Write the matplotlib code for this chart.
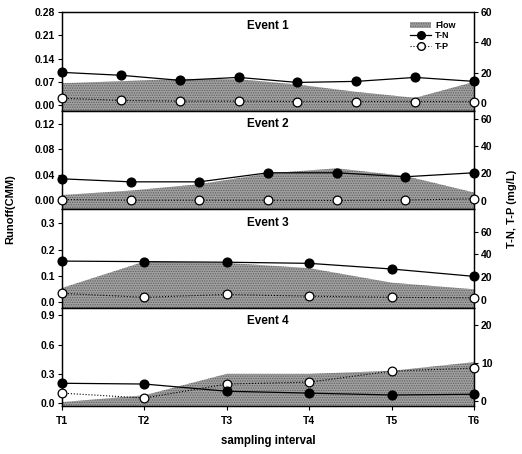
import numpy as np
import matplotlib.pyplot as plt
from matplotlib.patches import Patch
from matplotlib.lines import Line2D

plt.rcParams['font.family'] = ['Liberation Sans', 'DejaVu Sans']
plt.rcParams['font.weight'] = 'bold'
plt.rcParams['hatch.linewidth'] = 0.6

# sampling labels
periods = ["T1", "T2", "T3", "T4", "T5", "T6"]

# Event 1 (8 samples)
flow1 = [0.066, 0.072, 0.079, 0.078, 0.062, 0.040, 0.022, 0.070]
tn1 = [20.4, 18.5, 15.2, 17.1, 13.8, 14.5, 17.1, 14.5]
tp1 = [3.5, 2.0, 1.5, 1.5, 1.3, 1.3, 1.3, 1.2]

# Event 2 (7 samples)
flow2 = [0.008, 0.015, 0.025, 0.042, 0.050, 0.038, 0.012]
tn2 = [16.1, 13.9, 13.9, 20.5, 20.5, 17.6, 20.5]
tp2 = [1.0, 0.5, 0.5, 0.5, 0.3, 0.6, 1.5]

# Event 3 (6 samples)
flow3 = [0.055, 0.155, 0.150, 0.130, 0.075, 0.050]
tn3 = [34.0, 33.5, 33.0, 32.0, 27.0, 20.5]
tp3 = [5.5, 2.0, 4.5, 3.0, 2.0, 1.5]

# Event 4 (6 samples)
flow4 = [0.010, 0.080, 0.300, 0.300, 0.330, 0.420]
tn4 = [4.7, 4.5, 2.6, 2.1, 1.6, 1.8]
tp4 = [2.1, 0.8, 4.5, 5.0, 7.9, 8.7]

events = ["Event 1", "Event 2", "Event 3", "Event 4"]
flows = [flow1, flow2, flow3, flow4]
tns = [tn1, tn2, tn3, tn4]
tps = [tp1, tp2, tp3, tp4]

# axis settings per panel
left_lims = [(-0.016, 0.28), (-0.014, 0.141), (-0.019, 0.354), (-0.03, 0.98)]
right_lims = [(-4.6, 60), (-5.9, 65.9), (-7, 80), (-1.3, 24.7)]
left_ticks = [[0, 0.07, 0.14, 0.21, 0.28], [0, 0.04, 0.08, 0.12],
              [0, 0.1, 0.2, 0.3], [0, 0.3, 0.6, 0.9]]
right_ticks = [[0, 20, 40, 60], [0, 20, 40, 60], [0, 20, 40, 60], [0, 10, 20]]
left_fmt = ["%.2f", "%.2f", "%.1f", "%.1f"]

fig = plt.figure(figsize=(5.22, 4.54), dpi=100)
left, right, top, bottom = 62 / 522, 474 / 522, 1 - 12 / 454, 1 - 406 / 454
h = (top - bottom) / 4

fill_kw = dict(facecolor='#a0a0a0', edgecolor='#5e5e5e', hatch='.......', linewidth=0)

for i in range(4):
    ax = fig.add_axes([left, top - (i + 1) * h, right - left, h])
    ax2 = ax.twinx()
    n = len(flows[i])
    x = np.linspace(1, 6, n)

    ax.fill_between(x, flows[i], -10, **fill_kw, zorder=1)
    ax.set_ylim(*left_lims[i])
    ax.set_yticks(left_ticks[i])
    ax.set_yticklabels([left_fmt[i] % v for v in left_ticks[i]])
    ax.set_xlim(1, 6)

    ax2.plot(x, tps[i], linestyle=':', color='black', linewidth=0.8,
             marker='o', markersize=6.3, markerfacecolor='white',
             markeredgecolor='black', markeredgewidth=0.9, clip_on=False, zorder=3)
    ax2.plot(x, tns[i], linestyle='-', color='black', linewidth=0.9,
             marker='o', markersize=6.3, markerfacecolor='black',
             markeredgecolor='black', clip_on=False, zorder=4)
    ax2.set_ylim(*right_lims[i])
    ax2.set_yticks(right_ticks[i])

    for a in (ax, ax2):
        a.tick_params(axis='y', labelsize=7.5, length=3, width=0.8, pad=2)
        for s in a.spines.values():
            s.set_linewidth(0.9)

    ax.set_xticks(range(1, 7))
    if i == 3:
        ax.set_xticklabels(periods, fontsize=7.5)
        ax.tick_params(axis='x', length=3, width=0.8, pad=4)
    else:
        ax.tick_params(axis='x', length=0, labelbottom=False)

    ax.text(0.5, 0.86, events[i], transform=ax.transAxes, ha='center',
            va='center', fontsize=8.5, fontweight='bold')

    if i == 0:
        handles = [Patch(**fill_kw),
                   Line2D([], [], color='black', linewidth=0.9, marker='o',
                          markersize=5.5, markerfacecolor='black'),
                   Line2D([], [], color='black', linewidth=0.8, linestyle=':',
                          marker='o', markersize=5.5, markerfacecolor='white')]
        ax2.legend(handles, ["Flow", "T-N", "T-P"], loc='upper right',
                   frameon=False, fontsize=6.5, handlelength=2.4,
                   handletextpad=0.4, labelspacing=0.15,
                   bbox_to_anchor=(0.975, 0.99))

fig.text(10 / 522, 1 - 209 / 454, "Runoff(CMM)", rotation=90, ha='center',
         va='center', fontsize=8, fontweight='bold')
fig.text(512 / 522, 1 - 209 / 454, "T-N, T-P (mg/L)", rotation=90, ha='center',
         va='center', fontsize=8, fontweight='bold')
fig.text(268 / 522, 1 - 441 / 454, "sampling interval", ha='center',
         va='center', fontsize=8.3, fontweight='bold')

fig.savefig("out.png", dpi=100)
